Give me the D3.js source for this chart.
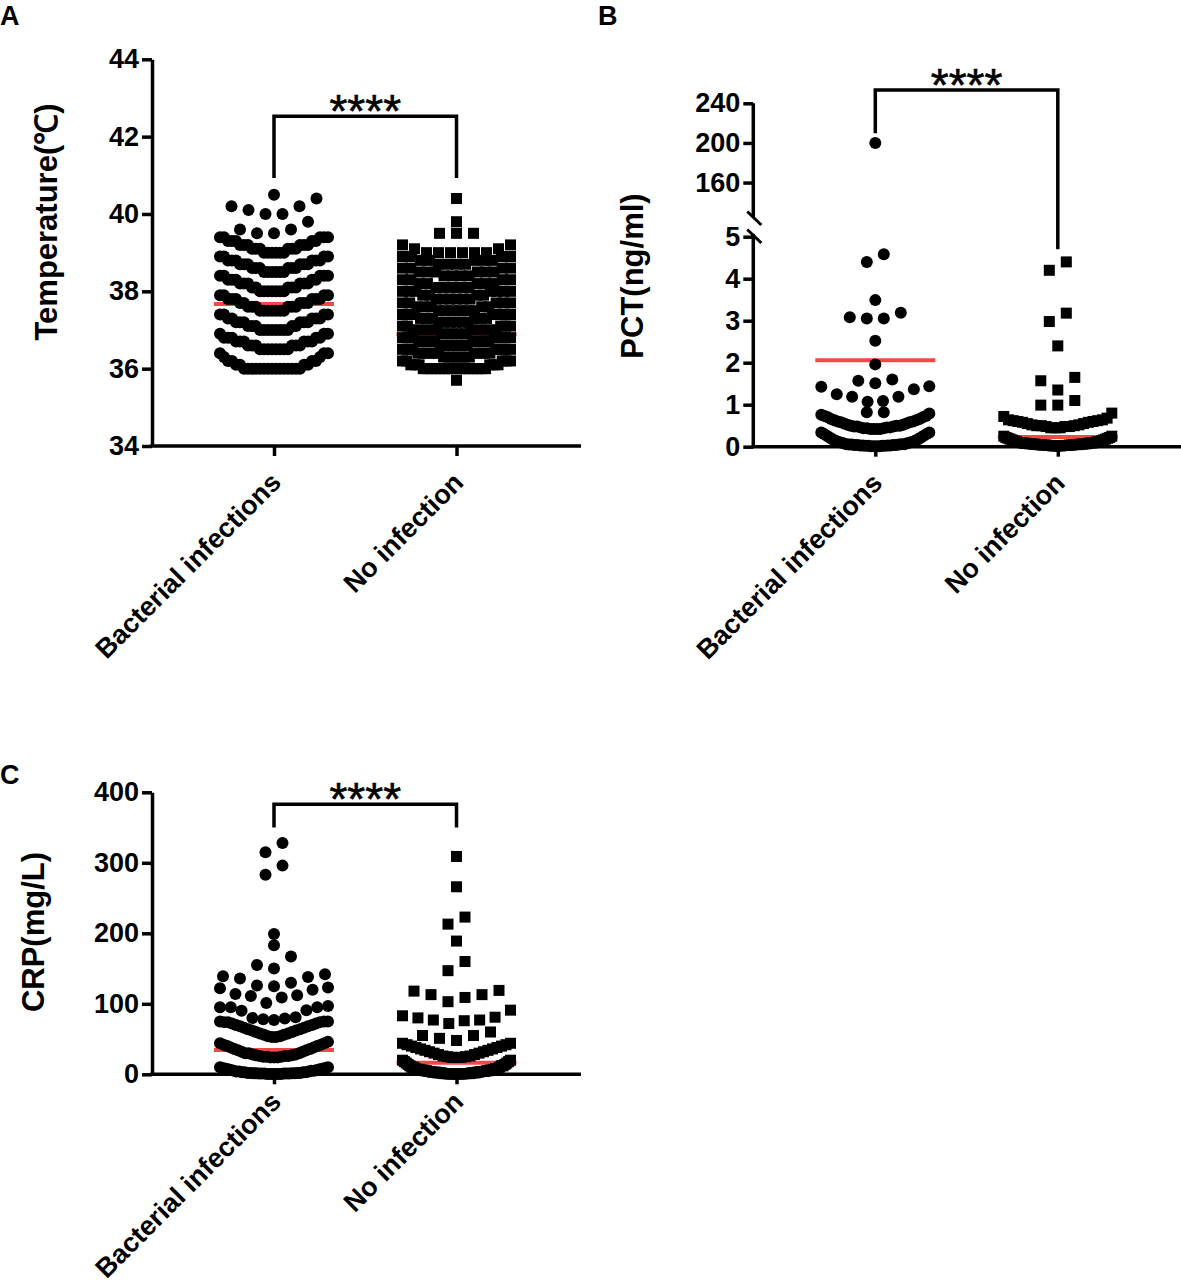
<!DOCTYPE html>
<html>
<head>
<meta charset="utf-8">
<script src="https://cdn.jsdelivr.net/npm/d3@7"></script>
<style>
  body { margin: 0; background: #fff; }
  svg text { font-family: 'Liberation Sans', Arial, Helvetica, sans-serif; }
</style>
</head>
<body>
<svg id="chart" width="1181" height="1285"></svg>
<script>
const groups = ["Bacterial infections", "No infection"];

// A - temperature, [value, number of patients]
const tempBacterial = [
  [36.0,15],[36.1,4],[36.2,4],[36.3,2],[36.4,3],
  [36.5,8],[36.6,6],[36.7,6],[36.8,5],[36.9,3],
  [37.0,8],[37.1,5],[37.2,6],[37.3,5],[37.4,4],
  [37.5,7],[37.6,6],[37.7,5],[37.8,6],[37.9,4],
  [38.0,7],[38.1,5],[38.2,6],[38.3,5],[38.4,5],
  [38.5,6],[38.6,6],[38.7,6],[38.8,6],[38.9,4],
  [39.0,6],[39.1,6],[39.2,6],[39.3,5],[39.4,5],
  [39.5,2],[39.6,2],[39.8,1],
  [40.0,2],[40.1,1],[40.2,2],[40.4,1],[40.5,1]
];
const tempNoInfection = [
  [35.7,1],
  [36.0,16],[36.1,6],[36.2,5],
  [36.3,6],[36.4,9],[36.5,7],
  [36.6,6],[36.7,8],[36.8,7],
  [36.9,6],[37.0,12],[37.1,5],
  [37.2,6],[37.3,6],[37.4,7],
  [37.5,6],[37.6,5],[37.7,5],
  [37.8,6],[37.9,4],[38.0,7],
  [38.1,5],[38.2,5],[38.3,4],
  [38.4,4],[38.5,6],[38.6,4],
  [38.7,4],[38.8,5],[38.9,4],
  [39.0,6],[39.1,2],[39.2,2],
  [39.5,3],[39.8,1],[40.4,1]
];
const tempMeans = [37.67, 36.89];
const tempTicks = [34, 36, 38, 40, 42, 44];

// B - PCT
const pctBacterial = [
  [0.01,4],[0.02,4],[0.03,4],[0.04,4],[0.05,3],[0.06,3],[0.08,2],[0.1,2],
  [0.12,2],[0.15,2],[0.18,2],[0.22,2],[0.26,2],[0.3,2],[0.34,2],
  [0.42,4],[0.44,3],[0.46,3],[0.48,3],[0.5,3],[0.52,2],[0.55,2],[0.58,2],
  [0.6,2],[0.63,2],[0.66,2],[0.7,2],[0.73,2],[0.76,1],[0.79,1],
  [0.82,2],
  [1.07,1],[1.09,1],[1.19,2],[1.25,1],[1.37,1],[1.43,1],[1.44,1],
  [1.51,1],[1.57,1],[1.6,1],
  [1.96,1],[2.52,1],
  [3.05,2],[3.08,1],[3.19,1],
  [3.49,1],[4.4,1],[4.58,1],
  [200,1]
];
const pctNoInfection = [
  [0.02,5],[0.03,5],[0.04,5],[0.05,5],[0.06,4],[0.07,4],[0.08,3],[0.09,3],
  [0.1,3],[0.12,3],[0.14,2],[0.16,2],[0.18,2],[0.2,2],[0.22,2],[0.25,2],
  [0.45,3],[0.48,3],[0.5,3],[0.52,2],[0.55,2],[0.58,2],[0.6,2],[0.62,2],
  [0.64,2],[0.68,1],[0.72,1],[0.8,1],
  [0.99,2],[1.1,1],[1.35,1],
  [1.57,1],[1.65,1],
  [2.4,1],[2.98,1],[3.18,1],
  [4.2,1],[4.4,1]
];
const pctMeans = [2.06, 0.23];
const pctTicks = [0, 1, 2, 3, 4, 5, 160, 200, 240];

// C - CRP
const crpBacterial = [
  [0.5,6],[1,6],[1.5,4],[2,4],[3,4],[4,3],[5,3],[6,2],[7,2],[8,2],[9,2],[10,2],
  [24,3],[25,3],[26,3],[27,2],[28,2],[30,3],[32,2],[34,2],[36,2],[38,2],
  [40,2],[42,2],[44,2],[46,1],
  [53,2],[54,2],[56,2],[58,2],[60,2],[62,2],[64,2],[66,2],[68,2],[70,2],
  [72,2],[74,3],[75,3],
  [77,1],[78,1],[79,1],[80,1],[81,1],[90,1],[91,1],[95,3],[97,1],
  [101,1],[109,1],[111,1],[112,1],[114,1],[120,1],[122,1],[123,1],
  [125,1],[126,1],[130,1],[136,1],[138,1],[139,1],[142,1],
  [150,1],[155,1],[167,1],
  [183,1],[199,1],
  [283,1],[296,1],[315,1],[328,1]
];
const crpNoInfection = [
  [0.5,8],[1,7],[2,6],[3,5],[4,5],[5,4],[6,4],[7,3],[8,3],[10,3],[12,3],
  [14,2],[16,2],[18,2],[20,2],
  [24,3],[25,2],[26,2],[28,2],[30,2],[32,2],[34,2],[36,2],[38,2],[40,2],
  [42,2],[44,2],
  [48,1],[51,1],[55,2],[60,1],
  [72,1],[76,1],[77,2],[80,1],[81,1],[83,1],[91,1],
  [103,1],[109,1],[113,2],[118,1],[119,1],
  [147,1],[160,1],
  [189,1],[213,1],[223,1],[266,1],[309,1]
];
const crpMeans = [34.5, 16.5];
const crpTicks = [0, 100, 200, 300, 400];

const svg = d3.select("#chart");
const RED = "#f44848";
const AXW = 3.5;

function expand(pairs) {
  return pairs.flatMap(([v, n]) => d3.range(n).map(() => v));
}

// Prism style column scatter: sort, cut in rows, spread each row from the centre
function swarm(values, y, cx, rowPx) {
  const pts = values.map(v => ({ v: v, y: y(v) })).sort((a, b) => a.v - b.v);
  const rows = [];
  let row = null;
  pts.forEach(p => {
    if (!row || row.y0 - p.y > rowPx + 0.01 || row.last - p.y > 9.5) {
      row = { y0: p.y, last: p.y, pts: [] };
      rows.push(row);
    }
    row.pts.push(p);
    row.last = p.y;
  });
  rows.forEach(r => {
    const n = r.pts.length;
    let sp = 17;
    if ((n - 1) * sp > 108) sp = 108 / (n - 1);
    r.pts.forEach((p, i) => {
      let k;
      if (n % 2 === 1) {
        k = i === 0 ? 0 : Math.ceil(i / 2) * (i % 2 === 1 ? -1 : 1);
      } else {
        k = (Math.floor(i / 2) + 0.5) * (i % 2 === 0 ? -1 : 1);
      }
      p.x = cx + k * sp;
    });
  });
  return pts;
}

const panels = [
  {
    label: "A", labelX: 0, labelY: 25,
    axisX: 152,
    y: d3.scaleLinear().domain([34, 44]).range([446, 59.3]),
    ticks: tempTicks,
    data: [tempBacterial, tempNoInfection],
    means: tempMeans,
    rowPx: [16, 11],
    bracket: { top: 42.53, ends: [40.93, 40.93] },
    title: "Temperature(℃)", titleX: 46, titleY: 222,
    labelOffset: 38
  },
  {
    label: "B", labelX: 598, labelY: 25,
    axisX: 753.3,
    y: d3.scaleLinear().domain([0, 5, 130, 240]).range([446.7, 236.7, 212.3, 103.3]),
    ticks: pctTicks,
    broken: true,
    data: [pctBacterial, pctNoInfection],
    means: pctMeans,
    rowPx: [16, 16],
    bracket: { top: 253.4, ends: [209.8, 4.7] },
    title: "PCT(ng/ml)", titleX: 632, titleY: 276,
    labelOffset: 38
  },
  {
    label: "C", labelX: 0, labelY: 784,
    axisX: 152,
    y: d3.scaleLinear().domain([0, 400]).range([1074.3, 792.3]),
    ticks: crpTicks,
    data: [crpBacterial, crpNoInfection],
    means: crpMeans,
    rowPx: [16, 16],
    bracket: { top: 383, ends: [350, 350] },
    title: "CRP(mg/L)", titleX: 33, titleY: 932,
    labelOffset: 29
  }
];

panels.forEach(cfg => {
  const g = svg.append("g");
  const y = cfg.y;
  const x = d3.scalePoint().domain(groups).range([cfg.axisX + 122, cfg.axisX + 304.5]);
  const baseY = y.range()[0];

  // mean lines (behind the points)
  g.selectAll(".mean")
    .data(cfg.means)
    .join("line")
    .attr("class", "mean")
    .attr("x1", (d, i) => x(groups[i]) - 60)
    .attr("x2", (d, i) => x(groups[i]) + 60)
    .attr("y1", d => y(d))
    .attr("y2", d => y(d))
    .attr("stroke", RED)
    .attr("stroke-width", 4);

  // points
  const circ = swarm(expand(cfg.data[0]), y, x(groups[0]), cfg.rowPx[0]);
  g.selectAll(".dot")
    .data(circ)
    .join("circle")
    .attr("class", "dot")
    .attr("cx", d => d.x)
    .attr("cy", d => d.y)
    .attr("r", 6)
    .attr("fill", "#000");

  const sq = swarm(expand(cfg.data[1]), y, x(groups[1]), cfg.rowPx[1]);
  g.selectAll(".sq")
    .data(sq)
    .join("rect")
    .attr("class", "sq")
    .attr("x", d => d.x - 5.5)
    .attr("y", d => d.y - 5.5)
    .attr("width", 11)
    .attr("height", 11)
    .attr("fill", "#000");

  // y axis
  const ya = g.append("g")
    .attr("transform", `translate(${cfg.axisX},0)`)
    .call(d3.axisLeft(y).tickValues(cfg.ticks).tickSize(10).tickSizeOuter(0).tickPadding(3));
  ya.selectAll("line").attr("stroke", "#000").attr("stroke-width", AXW);
  ya.select(".domain").attr("stroke", "#000").attr("stroke-width", AXW);
  ya.selectAll("text")
    .attr("font-size", 27)
    .attr("font-weight", "bold")
    .attr("fill", "#000")
    .style("font-family", "'Liberation Sans', Arial, sans-serif");

  if (cfg.broken) {
    ya.select(".domain").remove();
    const segs = [[y(240), 217], [234, y(0)]];
    g.selectAll(".seg")
      .data(segs)
      .join("line")
      .attr("class", "seg")
      .attr("x1", cfg.axisX).attr("x2", cfg.axisX)
      .attr("y1", d => d[0]).attr("y2", d => d[1])
      .attr("stroke", "#000").attr("stroke-width", AXW);
    g.selectAll(".brk")
      .data([211.5, 229.5])
      .join("line")
      .attr("class", "brk")
      .attr("x1", cfg.axisX - 6).attr("x2", cfg.axisX + 8)
      .attr("y1", d => d).attr("y2", d => d + 13.5)
      .attr("stroke", "#000").attr("stroke-width", 3);
  }

  // x axis
  g.append("line")
    .attr("x1", cfg.axisX - AXW / 2).attr("x2", cfg.axisX + 429)
    .attr("y1", baseY).attr("y2", baseY)
    .attr("stroke", "#000").attr("stroke-width", AXW);

  const xa = g.append("g")
    .attr("transform", `translate(0,${baseY})`)
    .call(d3.axisBottom(x).tickSize(10).tickSizeOuter(0));
  xa.select(".domain").remove();
  xa.selectAll("line").attr("stroke", "#000").attr("stroke-width", AXW);
  xa.selectAll("text")
    .attr("x", 0).attr("y", 0).attr("dy", null)
    .attr("text-anchor", "end")
    .attr("transform", `translate(8,${cfg.labelOffset}) rotate(-45)`)
    .attr("font-size", 27)
    .attr("font-weight", "bold")
    .attr("fill", "#000")
    .style("font-family", "'Liberation Sans', Arial, sans-serif");

  // significance bracket
  const b = cfg.bracket;
  const x1 = x(groups[0]), x2 = x(groups[1]);
  g.append("path")
    .attr("d", `M${x1},${y(b.ends[0])}V${y(b.top)}H${x2}V${y(b.ends[1])}`)
    .attr("fill", "none")
    .attr("stroke", "#000")
    .attr("stroke-width", AXW);
  g.append("text")
    .attr("x", (x1 + x2) / 2)
    .attr("y", y(b.top) + 11)
    .attr("text-anchor", "middle")
    .attr("font-size", 46)
    .attr("stroke", "#000")
    .attr("stroke-width", 0.6)
    .text("****");

  // axis title
  g.append("text")
    .attr("transform", `translate(${cfg.titleX},${cfg.titleY}) rotate(-90)`)
    .attr("text-anchor", "middle")
    .attr("dy", "0.35em")
    .attr("font-size", 31)
    .attr("font-weight", "bold")
    .text(cfg.title);

  // panel letter
  svg.append("text")
    .attr("x", cfg.labelX)
    .attr("y", cfg.labelY)
    .attr("font-size", 27)
    .attr("font-weight", "bold")
    .text(cfg.label);
});
</script>
</body>
</html>
